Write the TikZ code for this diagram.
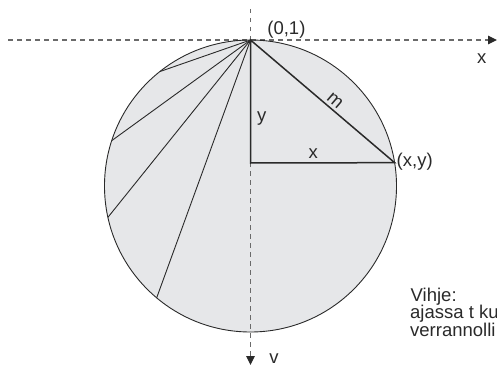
\documentclass[tikz,border=0pt]{standalone}
\usepackage{fontspec}
\setmainfont{Liberation Sans}
\usetikzlibrary{calc,arrows.meta}
\definecolor{discfill}{HTML}{E6E7E9}
\definecolor{ink}{HTML}{2A2A2A}
\definecolor{axisgray}{HTML}{6A6A6A}
\begin{document}
\begin{tikzpicture}[x=1pt,y=-1pt,
  axisline/.style={draw=axisgray, line width=1.1pt, dash pattern=on 4.5pt off 4.5pt,
    -{Triangle[length=9pt,width=8.5pt,color=ink]}},
  lbl/.style={font=\fontsize{18.5}{21}\selectfont, text=ink, inner sep=0pt},
  chord/.style={draw=ink, line width=0.9pt},
  leg/.style={draw=ink, line width=1.5pt}]
\useasboundingbox (0,0) rectangle (497,366);
\coordinate (c) at (250.5,186);
\fill[discfill] (c) circle (146);
% axes
\coordinate (xstart) at (8,40);
\coordinate (xend) at (497,40);
\coordinate (vstart) at (250.5,9);
\coordinate (vend) at (250.5,365);
\draw[axisline] (xstart) -- (xend);
\draw[axisline] (vstart) -- (vend);
% circle outline
\draw[ink, line width=0.9pt] (c) circle (146);
% points
\coordinate (top) at ($(c)+(-90:146)$);
\coordinate (p) at ($(c)+(-9.2:146)$);
\coordinate (foot) at (250.5,163);
\coordinate (q1) at ($(c)+(-128.4:146)$);
\coordinate (q2) at ($(c)+(-161.9:146)$);
\coordinate (q3) at ($(c)+(-192.4:146)$);
\coordinate (q4) at ($(c)+(-230:146)$);
% chords
\draw[chord] (top) -- (q1);
\draw[chord] (top) -- (q2);
\draw[chord] (top) -- (q3);
\draw[chord] (top) -- (q4);
% triangle
\draw[leg] (top) -- (foot) -- (p) -- cycle;
% labels
\node[lbl, anchor=base] (l01) at (286.4,34.3) {(0,1)};
\node[lbl, anchor=base] (lxaxis) at (481.7,63.3) {x};
\node[lbl, anchor=base] (lvaxis) at (274,363.5) {v};
\node[lbl, anchor=base] (ly) at (261.7,122) {y};
\node[lbl, anchor=base] (lx) at (313.3,158.3) {x};
\node[lbl, anchor=base west] (lxy) at (396.5,166) {(x,y)};
\node[lbl, rotate=-40.7] (lm) at (335,101) {m};
\node[lbl, anchor=base west] (h1) at (410.5,301) {Vihje:};
\node[lbl, anchor=base west] (h2) at (410,318.5) {ajassa t ku};
\node[lbl, anchor=base west] (h3) at (410,336) {verrannolli};
\end{tikzpicture}
\end{document}
